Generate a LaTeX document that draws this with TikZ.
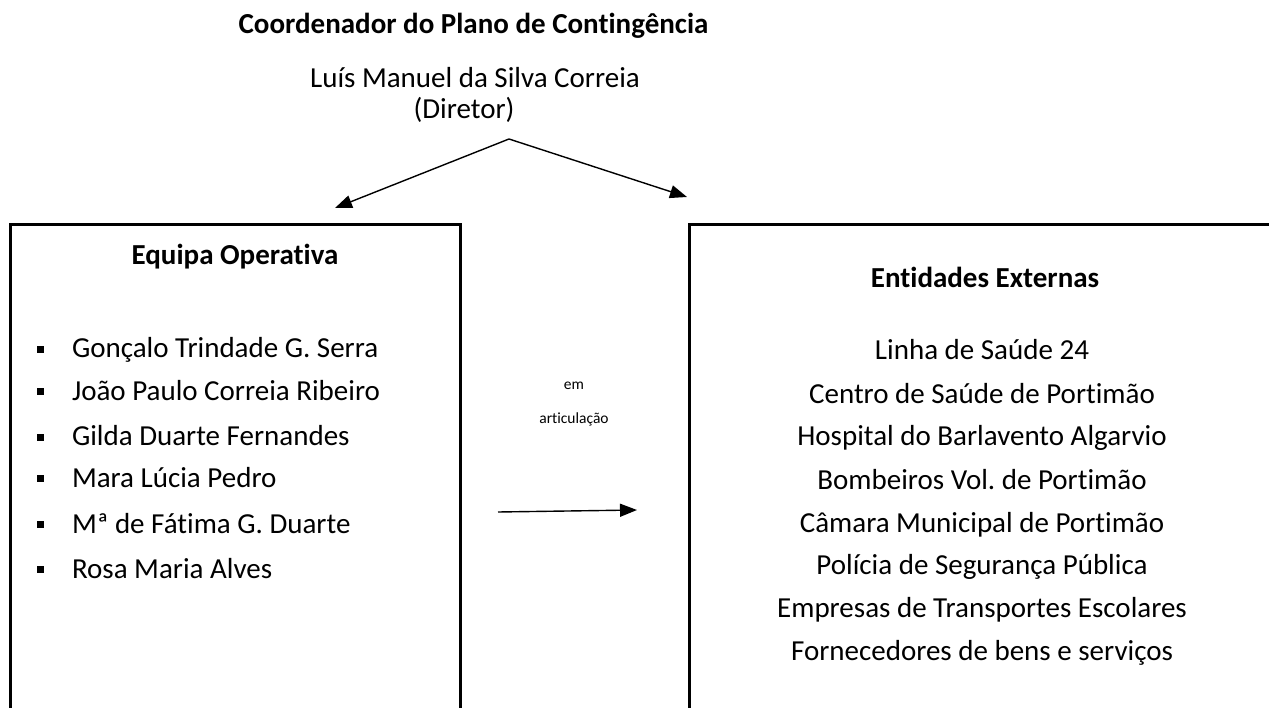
\documentclass[tikz,border=0pt]{standalone}
\usepackage{fontspec}
\setmainfont{Carlito}[Ligatures={NoCommon,NoContextual}]
\usetikzlibrary{arrows.meta}
\frenchspacing
\tikzset{
  txt/.style={inner sep=0pt, outer sep=0pt, anchor=base, font=\fontsize{29}{35}\selectfont},
  btxt/.style={txt, font=\fontsize{29}{35}\selectfont\bfseries},
  item/.style={txt, anchor=base west},
  small/.style={inner sep=0pt, anchor=base, font=\fontsize{15.5}{18}\selectfont},
  bul/.style={fill=black, inner sep=0pt, minimum size=7pt},
  frame/.style={draw=black, line width=3pt, anchor=north west, inner sep=0pt},
  arr/.style={line width=1.4pt, -{Triangle[length=17pt,width=13pt]}}
}
\begin{document}
\begin{tikzpicture}[x=1pt,y=-1pt]
\fill[white] (0,0) rectangle (1269,708);
\useasboundingbox (0,0) rectangle (1269,708);
% boxes
\node[frame, minimum width=449.5pt, minimum height=540pt] (eo) at (9,223.5) {};
\node[frame, minimum width=640pt, minimum height=540pt] (ee) at (688,223.5) {};
% top texts
\node[btxt] (coord) at (473.5,34) {Coordenador do Plano de Contingência};
\node[txt] (name) at (475,88) {Luís Manuel da Silva Correia};
\node[txt] (dir) at (464,119) {(Diretor)};
% titles
\node[btxt] (eot) at (235,265) {Equipa Operativa};
\node[btxt] (eet) at (985,288) {Entidades Externas};
% left list
\foreach \y/\t [count=\i] in {358/{Gonçalo Trindade G. Serra},400/{João Paulo Correia Ribeiro},446/{Gilda Duarte Fernandes},487/{Mara Lúcia Pedro},533/{Mª de Fátima G. Duarte},578/{Rosa Maria Alves}}{
  \node[bul] (b\i) at (40,\y-8.5) {};
  \node[item] (l\i) at (72,\y) {\t};
}
% right list
\foreach \y/\t [count=\i] in {360/{Linha de Saúde 24},403/{Centro de Saúde de Portimão},446/{Hospital do Barlavento Algarvio},489/{Bombeiros Vol. de Portimão},532/{Câmara Municipal de Portimão},574/{Polícia de Segurança Pública},617/{Empresas de Transportes Escolares},660/{Fornecedores de bens e serviços}}{
  \node[txt] (r\i) at (982,\y) {\t};
}
% middle label
\node[small] (em) at (574,390) {em};
\node[small] (art) at (574,424) {articulação};
% arrows
\coordinate (fork) at (509,139);
\coordinate (lt) at (335,208);
\coordinate (rt) at (687,197);
\draw[arr] (fork) -- (lt);
\draw[arr] (fork) -- (rt);
\coordinate (ms) at (498,512);
\coordinate (me) at (637,510);
\draw[arr] (ms) -- (me);
\end{tikzpicture}
\end{document}
